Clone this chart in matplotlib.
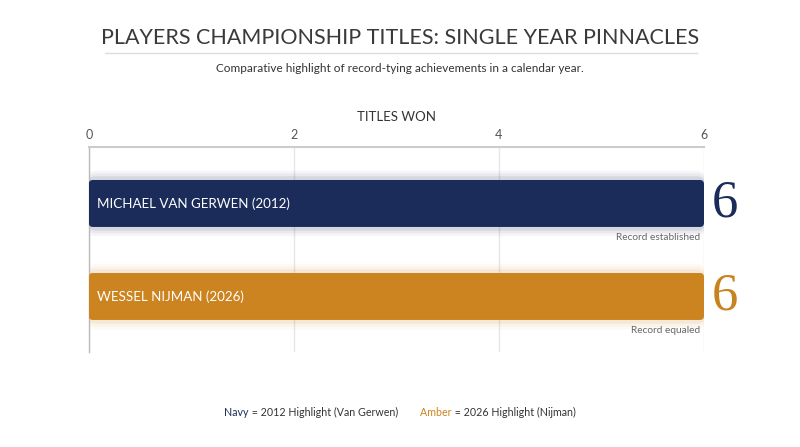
import numpy as np
import matplotlib
matplotlib.use("Agg")
import matplotlib.pyplot as plt
from matplotlib.patches import FancyBboxPatch
from matplotlib.offsetbox import TextArea, HPacker, AnchoredOffsetbox
from matplotlib.lines import Line2D

players = ["MICHAEL VAN GERWEN (2012)", "WESSEL NIJMAN (2026)"]
titles = [6, 6]
notes = ["Record established", "Record equaled"]
colors = ["#1b2c5a", "#cc8420"]
value_colors = ["#1b2c5a", "#c8831f"]
xticks = [0, 2, 4, 6]

plt.rcParams["font.family"] = ["Lato", "DejaVu Sans"]

fig = plt.figure(figsize=(8, 4.47), dpi=100)
ax = fig.add_axes([0.111, 0.2125, 0.769, 0.4586])

ax.set_xlim(0, 6)
ax.set_ylim(1.597, -0.607)

bar_h = 0.505
for i, (name, val, note) in enumerate(zip(players, titles, notes)):
    y0 = i - bar_h / 2
    # soft glow
    for k, a in [(0.10, 0.04), (0.07, 0.06), (0.04, 0.09)]:
        ax.add_patch(FancyBboxPatch((-0.01, y0 - k), val + 0.02, bar_h + 2 * k,
                                    boxstyle="round,pad=0,rounding_size=0.08",
                                    mutation_aspect=1.1, fc=colors[i], ec="none",
                                    alpha=a, zorder=2))
    ax.add_patch(FancyBboxPatch((0, y0), val, bar_h,
                                boxstyle="round,pad=0,rounding_size=0.04",
                                mutation_aspect=1.1, fc=colors[i], ec="none", zorder=3))
    ax.text(0.08, i, name, color="white", fontsize=9.6, va="center", ha="left", zorder=4)
    ax.text(val + 0.08, i, str(val), color=value_colors[i], fontsize=38,
            family=["Liberation Serif", "DejaVu Serif"], va="center", ha="left",
            clip_on=False, zorder=4)
    ax.text(val - 0.04, i + bar_h / 2 + 0.06, note, color="#666666", fontsize=7.3,
            ha="right", va="top", zorder=4)

ax.xaxis.tick_top()
ax.xaxis.set_label_position("top")
ax.set_xticks(xticks)
ax.set_xticklabels([str(t) for t in xticks])
ax.tick_params(axis="x", length=0, pad=4, labelsize=9, labelcolor="#555555")
ax.set_yticks([])
ax.set_xlabel("TITLES WON", fontsize=9.5, color="#333333", labelpad=6)
ax.grid(axis="x", color="#e6e6e6", lw=1, zorder=0)
for s in ["right", "bottom"]:
    ax.spines[s].set_visible(False)
ax.spines["top"].set_color("#cccccc")
ax.spines["top"].set_linewidth(1.5)
ax.spines["left"].set_color("#bbbbbb")
ax.spines["left"].set_linewidth(1)

fig.text(0.5, 1 - 38 / 447, "PLAYERS CHAMPIONSHIP TITLES: SINGLE YEAR PINNACLES",
         ha="center", va="center", fontsize=15.5, color="#3a3a3a")
fig.add_artist(Line2D([105 / 800, 697 / 800], [1 - 53 / 447] * 2, color="#dddddd", lw=1))
fig.text(0.5, 1 - 68 / 447, "Comparative highlight of record-tying achievements in a calendar year.",
         ha="center", va="center", fontsize=8.5, color="#333333")

leg_parts = [("Navy", colors[0]), (" = 2012 Highlight (Van Gerwen)", "#333333"),
             ("        Amber", colors[1]), (" = 2026 Highlight (Nijman)", "#333333")]
box = HPacker(children=[TextArea(t, textprops=dict(color=c, fontsize=7.7)) for t, c in leg_parts],
              align="center", pad=0, sep=0)
anch = AnchoredOffsetbox(loc="center", child=box, frameon=False,
                         bbox_to_anchor=(0.5, 1 - 412 / 447), bbox_transform=fig.transFigure,
                         pad=0, borderpad=0)
fig.add_artist(anch)

fig.savefig("out.png", dpi=100, facecolor="white")
